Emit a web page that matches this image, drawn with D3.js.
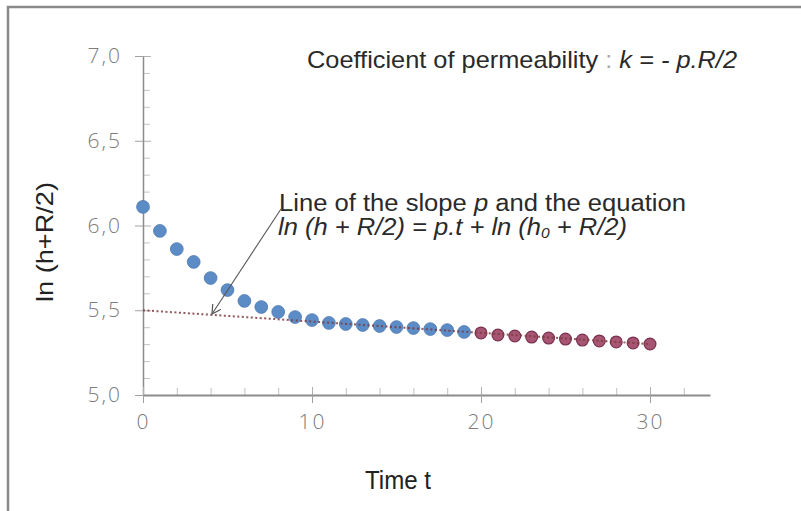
<!DOCTYPE html>
<html>
<head>
<meta charset="utf-8">
<script src="https://cdn.jsdelivr.net/npm/d3@7"></script>
<style>
  html, body { margin: 0; padding: 0; background: #fff; }
  svg { display: block; }
</style>
</head>
<body>
<svg id="chart" width="801" height="511"></svg>
<script>
// ---- data ----
const timesBlue = [0,1,2,3,4,5,6,7,8,9,10,11,12,13,14,15,16,17,18,19];
const valuesBlue = [6.11,5.968,5.861,5.785,5.69,5.619,5.555,5.519,5.49,5.46,5.442,5.425,5.419,5.413,5.407,5.401,5.395,5.389,5.383,5.372];
const timesRed = [20,21,22,23,24,25,26,27,28,29,30];
const valuesRed = [5.366,5.354,5.348,5.342,5.336,5.33,5.324,5.319,5.313,5.307,5.301];
const trendT = [0, 30];
const trendV = [5.5, 5.30];
const yMajorTicks = [5.0, 5.5, 6.0, 6.5, 7.0];
const xMajorTicks = [0, 10, 20, 30];

const svg = d3.select("#chart");
const fontLabel = "'Open Sans', 'DejaVu Sans', sans-serif";
const fontText = "'Liberation Sans', Arial, sans-serif";

// border frame
svg.append("rect").attr("x", 8).attr("y", 7).attr("width", 900).attr("height", 600)
  .attr("fill", "none").attr("stroke", "#8a8a8a").attr("stroke-width", 2.5);

const x = d3.scaleLinear().domain([0, 33.55]).range([143, 710]);
const y = d3.scaleLinear().domain([5, 7]).range([395, 56]);
const commaFmt = v => d3.format(".1f")(v).replace(".", ",");

const axisColor = "#8c8c8c";
const labelStyle = g => g.selectAll("text").attr("fill", "#7c7c7c").attr("font-family", fontLabel)
    .attr("font-weight", 300).attr("font-size", 21).attr("letter-spacing", 2);

// y minor ticks (inward)
const yMinor = d3.range(5.1, 7.0, 0.1).map(v => +v.toFixed(1)).filter(v => !yMajorTicks.includes(v));
svg.append("g").attr("transform", `translate(${x(0)},0)`)
  .call(d3.axisRight(y).tickValues(yMinor).tickSize(7).tickFormat("").tickSizeOuter(0))
  .call(g => g.select(".domain").remove())
  .call(g => g.selectAll("line").attr("stroke", "#c4c4c4"));
// y major inward part
svg.append("g").attr("transform", `translate(${x(0)},0)`)
  .call(d3.axisRight(y).tickValues(yMajorTicks).tickSize(8).tickFormat("").tickSizeOuter(0))
  .call(g => g.select(".domain").remove())
  .call(g => g.selectAll("line").attr("stroke", "#b0b0b0"));
// y major axis with labels
svg.append("g").attr("transform", `translate(${x(0)},0)`)
  .call(d3.axisLeft(y).tickValues(yMajorTicks).tickSize(8).tickPadding(13).tickFormat(commaFmt).tickSizeOuter(0))
  .call(g => g.select(".domain").attr("stroke", axisColor).attr("stroke-width", 1.5))
  .call(g => g.selectAll("line").attr("stroke", "#a0a0a0"))
  .call(labelStyle);

// x minor ticks (upward)
const xMinor = d3.range(2, 33, 2).filter(v => !xMajorTicks.includes(v));
svg.append("g").attr("transform", `translate(0,${y(5)})`)
  .call(d3.axisTop(x).tickValues(xMinor).tickSize(7).tickFormat("").tickSizeOuter(0))
  .call(g => g.select(".domain").remove())
  .call(g => g.selectAll("line").attr("stroke", "#c0c0c0"));
svg.append("g").attr("transform", `translate(0,${y(5)})`)
  .call(d3.axisTop(x).tickValues(xMajorTicks).tickSize(8).tickFormat("").tickSizeOuter(0))
  .call(g => g.select(".domain").remove())
  .call(g => g.selectAll("line").attr("stroke", "#b0b0b0"));
svg.append("g").attr("transform", `translate(0,${y(5)})`)
  .call(d3.axisBottom(x).tickValues(xMajorTicks).tickSize(8).tickPadding(11).tickSizeOuter(0))
  .call(g => g.select(".domain").attr("stroke", axisColor).attr("stroke-width", 2))
  .call(g => g.selectAll("line").attr("stroke", "#a0a0a0"))
  .call(labelStyle);

// points
svg.append("g").selectAll("circle").data(timesBlue.map((t, i) => [t, valuesBlue[i]]))
  .join("circle").attr("cx", d => x(d[0])).attr("cy", d => y(d[1])).attr("r", 6.4)
  .attr("fill", "#5c8cc6").attr("stroke", "#5079b0").attr("stroke-width", 0.8);
svg.append("g").selectAll("circle").data(timesRed.map((t, i) => [t, valuesRed[i]]))
  .join("circle").attr("cx", d => x(d[0])).attr("cy", d => y(d[1])).attr("r", 5.9)
  .attr("fill", "#a65572").attr("stroke", "#7a3150").attr("stroke-width", 1.2);

// trend line (dotted)
const line = d3.line().x(d => x(d[0])).y(d => y(d[1]));
svg.append("path").datum(trendT.map((t, i) => [t, trendV[i]]))
  .attr("d", line).attr("fill", "none").attr("stroke", "#7d3a40")
  .attr("stroke-width", 2).attr("stroke-dasharray", "2,2.5").attr("opacity", 0.85);

// arrow
svg.append("defs").append("marker").attr("id", "arr").attr("viewBox", "0 0 10 10")
  .attr("refX", 9).attr("refY", 5).attr("markerWidth", 10).attr("markerHeight", 10)
  .attr("markerUnits", "userSpaceOnUse").attr("orient", "auto")
  .append("path").attr("d", "M0,0 L9,5 L0,10").attr("fill", "none").attr("stroke", "#555").attr("stroke-width", 1.2);
svg.append("line").attr("x1", 281).attr("y1", 209).attr("x2", 212).attr("y2", 314)
  .attr("stroke", "#555").attr("stroke-width", 1.1).attr("marker-end", "url(#arr)");

// title annotation
const t1 = svg.append("text").attr("x", 307).attr("y", 68).attr("font-family", fontText)
  .attr("font-size", 24).attr("fill", "#2a2a2a")
  .attr("textLength", 430).attr("lengthAdjust", "spacingAndGlyphs");
t1.append("tspan").text("Coefficient of permeability ");
t1.append("tspan").attr("fill", "#aaa").text(": ");
t1.append("tspan").attr("font-style", "italic").text("k = - p.R/2");

// annotation lines
const a1 = svg.append("text").attr("x", 279).attr("y", 211).attr("font-family", fontText)
  .attr("font-size", 23).attr("fill", "#2a2a2a")
  .attr("textLength", 407).attr("lengthAdjust", "spacingAndGlyphs");
a1.append("tspan").text("Line of the slope ");
a1.append("tspan").attr("font-style", "italic").text("p");
a1.append("tspan").text(" and the equation");

const a2 = svg.append("text").attr("x", 278).attr("y", 235).attr("font-family", fontText)
  .attr("font-size", 23).attr("fill", "#2a2a2a").attr("font-style", "italic")
  .attr("textLength", 349).attr("lengthAdjust", "spacingAndGlyphs");
a2.append("tspan").text("ln (h + R/2) = p.t + ln (h");
a2.append("tspan").attr("font-size", 14).attr("dy", 3).text("0");
a2.append("tspan").attr("dy", -3).text(" + R/2)");

// axis titles
svg.append("text").attr("transform", "translate(53,242) rotate(-90)").attr("text-anchor", "middle")
  .attr("font-family", fontText).attr("font-size", 24).attr("fill", "#222")
  .attr("textLength", 120).attr("lengthAdjust", "spacingAndGlyphs").text("ln (h+R/2)");
svg.append("text").attr("x", 398).attr("y", 489).attr("text-anchor", "middle")
  .attr("font-family", fontText).attr("font-size", 25).attr("fill", "#222")
  .attr("textLength", 66).attr("lengthAdjust", "spacingAndGlyphs").text("Time t");
</script>
</body>
</html>
